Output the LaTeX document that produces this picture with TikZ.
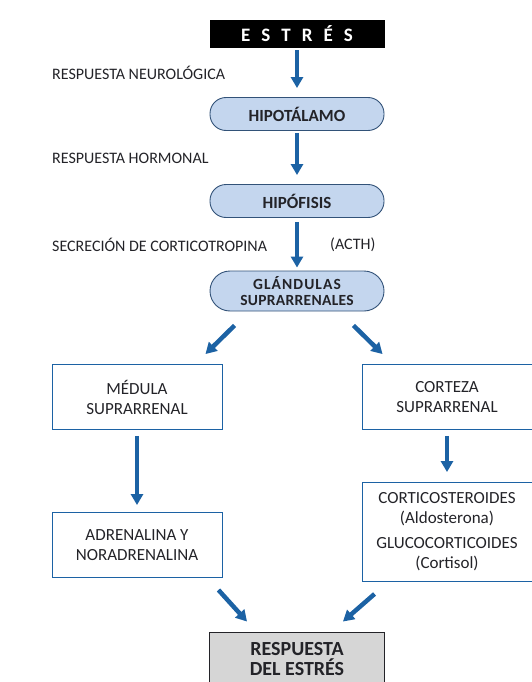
\documentclass[tikz,border=0pt]{standalone}
\usepackage{fontspec}
\setmainfont{Carlito}
\usetikzlibrary{arrows.meta,positioning}
\definecolor{azul}{RGB}{28,98,164}
\definecolor{celeste}{RGB}{196,214,238}
\definecolor{borde}{RGB}{50,82,120}
\definecolor{gris}{RGB}{214,214,214}
\definecolor{texto}{RGB}{35,35,40}
\tikzset{
  flecha/.style={draw=azul,line width=4.5pt,-{Triangle[width=12pt,length=11pt]}},
  etiqueta/.style={anchor=west,inner sep=0pt,text=texto,font=\fontsize{16}{16}\selectfont},
  ovalo/.style={draw=borde,fill=celeste,line width=0.9pt,rounded corners=16pt,minimum width=174pt,minimum height=33pt,align=center,text=texto,font=\bfseries\fontsize{17}{14}\selectfont},
  caja/.style={draw=azul,line width=0.9pt,minimum width=170pt,minimum height=65pt,align=center,text=texto,font=\fontsize{17}{20}\selectfont}
}
\begin{document}
\begin{tikzpicture}[x=1pt,y=-1pt]
\useasboundingbox (0,0) rectangle (532,682);
% cadena central
\node[fill=black,text=white,minimum width=175pt,minimum height=28pt,font=\bfseries\fontsize{19}{19}\selectfont] (estres) at (297,34)
  {E\hspace{11pt}S\hspace{11pt}T\hspace{11pt}R\hspace{11pt}É\hspace{11pt}S};
\node[ovalo] (hipotalamo) at (297,114) {HIPOTÁLAMO};
\node[ovalo] (hipofisis) at (297,201) {HIPÓFISIS};
\node[ovalo,rounded corners=20pt,minimum height=40pt,inner sep=1pt,font=\bfseries\fontsize{15.5}{16.5}\selectfont] (glandulas) at (297,291)
  {{\addfontfeature{LetterSpace=7}GLÁNDULAS}\\{\addfontfeature{LetterSpace=2}SUPRARRENALES}};
\node[etiqueta] (neuro) at (52,73) {RESPUESTA NEUROLÓGICA};
\node[etiqueta] (hormonal) at (52,158) {RESPUESTA HORMONAL};
\node[etiqueta] (secrecion) at (52,245) {SECRECIÓN DE CORTICOTROPINA};
\node[etiqueta] (acth) at (330,245) {(ACTH)};
\draw[flecha,shorten <=2pt,shorten >=9pt] (estres) -- (hipotalamo);
\draw[flecha,shorten <=2pt,shorten >=9pt] (hipotalamo) -- (hipofisis);
\draw[flecha,shorten <=4pt,shorten >=3pt] (hipofisis) -- (glandulas);
% ramas
\node[caja] (medula) at (137,397) {MÉDULA\\SUPRARRENAL};
\node[caja] (corteza) at (447,397) {CORTEZA\\SUPRARRENAL};
\node[caja] (adrenalina) at (137,545) {ADRENALINA Y\\NORADRENALINA};
\node[caja,minimum height=99pt] (cortico) at (447,532)
  {CORTICOSTEROIDES\\(Aldosterona)\\[5pt]GLUCOCORTICOIDES\\(Cortisol)};
\node[draw=texto,fill=gris,line width=0.9pt,minimum width=175pt,minimum height=60pt,align=center,text=texto,font=\bfseries\fontsize{20}{20}\selectfont,text depth=6pt] (respuesta) at (297,662) {RESPUESTA\\DEL ESTRÉS};
\draw[flecha] ([shift={(25,14)}]glandulas.south west) -- ([shift={(-17,-10)}]medula.north east);
\draw[flecha] ([shift={(-31,14)}]glandulas.south east) -- ([shift={(21,-10)}]corteza.north west);
\draw[flecha,shorten <=6pt,shorten >=7pt] (medula) -- (adrenalina);
\draw[flecha,shorten <=6pt,shorten >=10pt] (corteza) -- (cortico);
\draw[flecha] ([shift={(-4,12)}]adrenalina.south east) -- ([shift={(38,-10)}]respuesta.north west);
\draw[flecha] ([shift={(13,12)}]cortico.south west) -- ([shift={(-42,-10)}]respuesta.north east);
\end{tikzpicture}
\end{document}
